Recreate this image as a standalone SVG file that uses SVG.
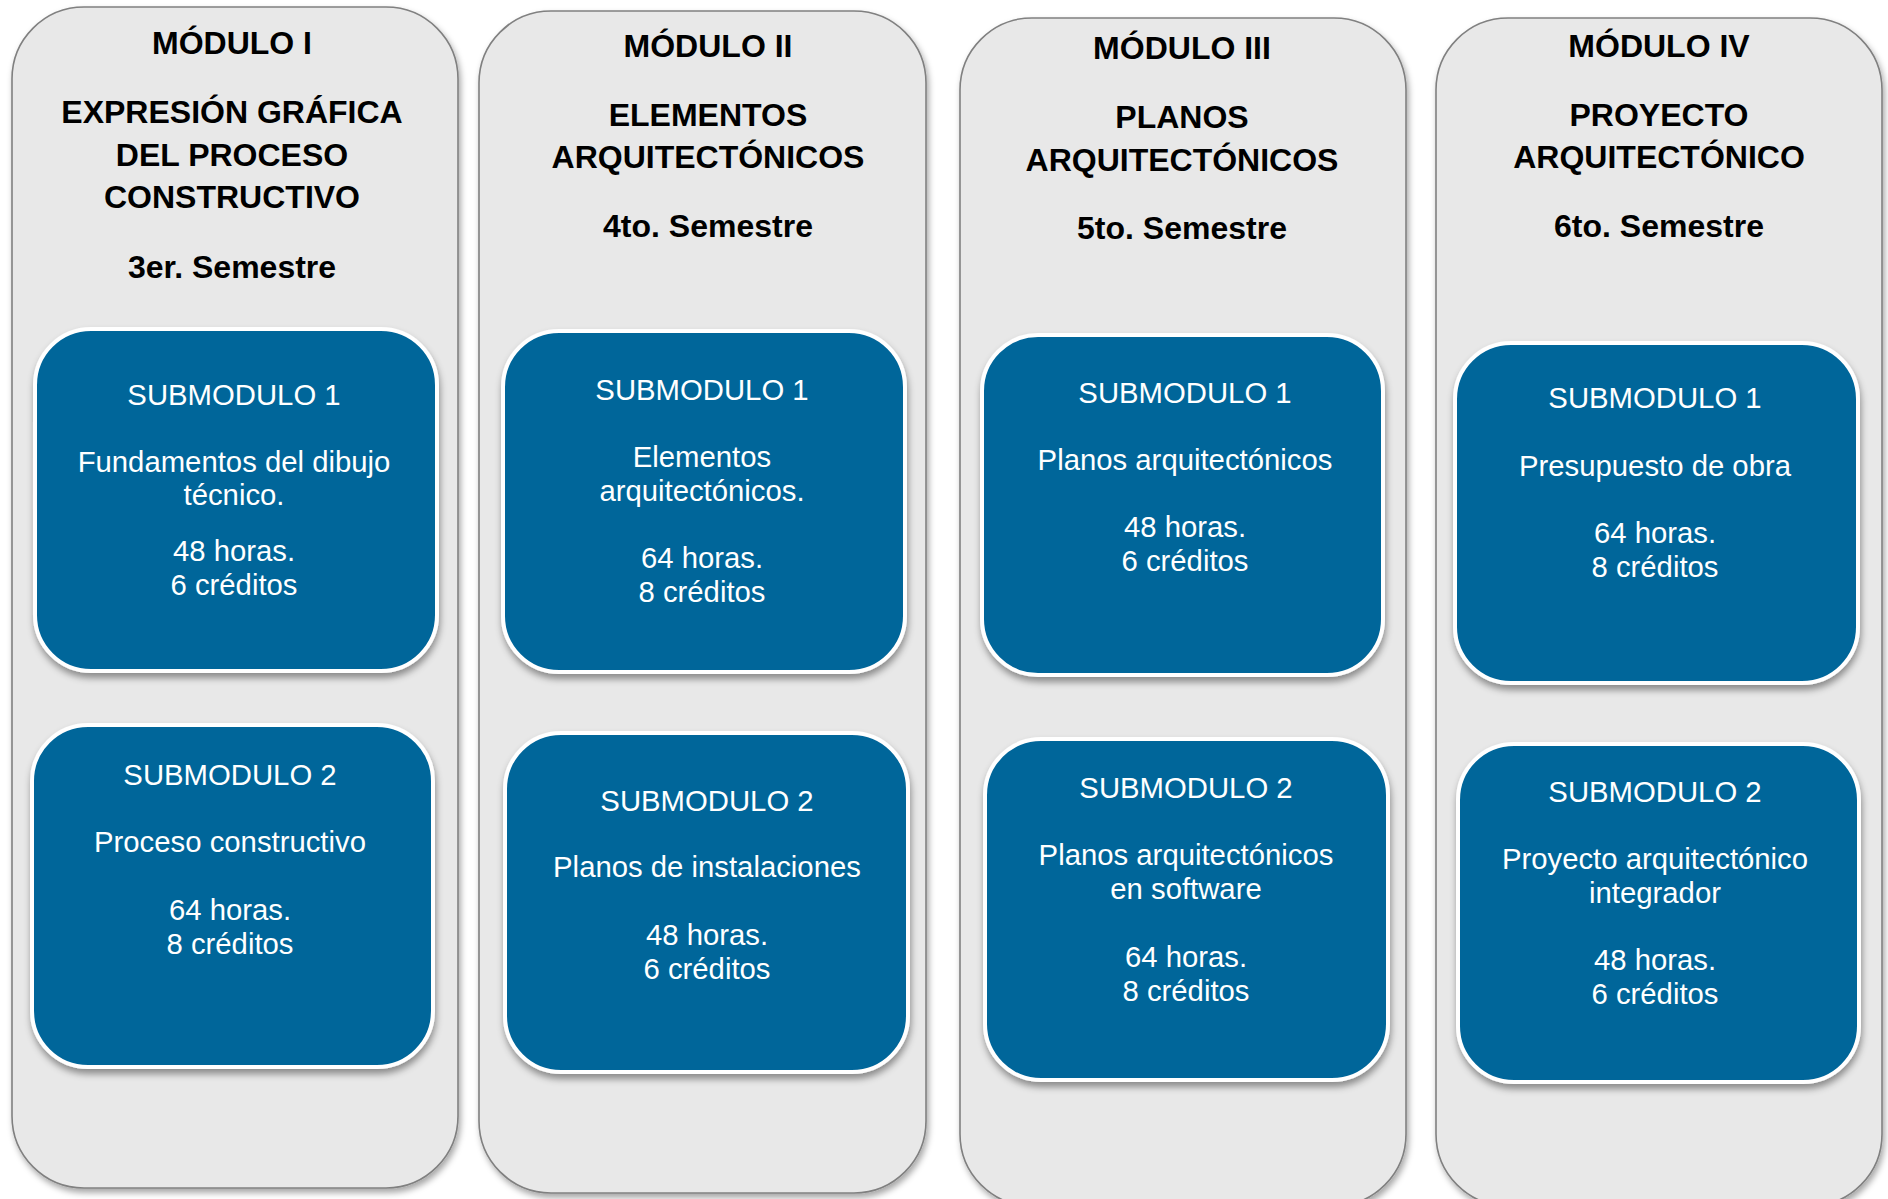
<svg xmlns="http://www.w3.org/2000/svg" width="1888" height="1199" viewBox="0 0 1888 1199">
<defs>
<filter id="shOuter" x="-10%" y="-10%" width="120%" height="120%">
<feDropShadow dx="2" dy="4" stdDeviation="3" flood-color="#000" flood-opacity="0.35"/>
</filter>
<filter id="shSub" x="-10%" y="-10%" width="120%" height="120%">
<feDropShadow dx="1" dy="5" stdDeviation="3.5" flood-color="#000" flood-opacity="0.4"/>
</filter>
</defs>
<style>
.mod{fill:#E8E8E8;stroke:#808080;stroke-width:1.6;filter:url(#shOuter)}
.sub{fill:#02669A;stroke:#FFFFFF;stroke-width:4;filter:url(#shSub)}
.ht{font-family:"Liberation Sans",Arial,sans-serif;font-weight:bold;font-size:32px;fill:#000;text-anchor:middle}
.st{font-family:"Liberation Sans",Arial,sans-serif;font-size:29.3px;fill:#FFFFFF;text-anchor:middle}
</style>
<rect width="1888" height="1199" fill="#FFFFFF"/>

<g id="modulo1">
<rect class="mod" x="12" y="7" width="446" height="1181" rx="72" ry="72"/>
<text class="ht" x="232" y="54">MÓDULO I</text>
<text class="ht" x="232" y="123">EXPRESIÓN GRÁFICA</text>
<text class="ht" x="232" y="166">DEL PROCESO</text>
<text class="ht" x="232" y="208">CONSTRUCTIVO</text>
<text class="ht" x="232" y="278">3er. Semestre</text>
</g>
<g id="m1-sub1">
<rect class="sub" x="35" y="329" width="402" height="342" rx="56" ry="56"/>
<text class="st" x="234" y="405">SUBMODULO 1</text>
<text class="st" x="234" y="472">Fundamentos del dibujo</text>
<text class="st" x="234" y="505">técnico.</text>
<text class="st" x="234" y="561">48 horas.</text>
<text class="st" x="234" y="595">6 créditos</text>
</g>
<g id="m1-sub2">
<rect class="sub" x="32" y="725" width="401" height="342" rx="56" ry="56"/>
<text class="st" x="230" y="785">SUBMODULO 2</text>
<text class="st" x="230" y="852">Proceso constructivo</text>
<text class="st" x="230" y="920">64 horas.</text>
<text class="st" x="230" y="954">8 créditos</text>
</g>

<g id="modulo2">
<rect class="mod" x="479" y="11" width="447" height="1182" rx="72" ry="72"/>
<text class="ht" x="708" y="57">MÓDULO II</text>
<text class="ht" x="708" y="126">ELEMENTOS</text>
<text class="ht" x="708" y="168">ARQUITECTÓNICOS</text>
<text class="ht" x="708" y="237">4to. Semestre</text>
</g>
<g id="m2-sub1">
<rect class="sub" x="503" y="331" width="402" height="341" rx="56" ry="56"/>
<text class="st" x="702" y="400">SUBMODULO 1</text>
<text class="st" x="702" y="467">Elementos</text>
<text class="st" x="702" y="501">arquitectónicos.</text>
<text class="st" x="702" y="568">64 horas.</text>
<text class="st" x="702" y="602">8 créditos</text>
</g>
<g id="m2-sub2">
<rect class="sub" x="505" y="733" width="403" height="339" rx="56" ry="56"/>
<text class="st" x="707" y="811">SUBMODULO 2</text>
<text class="st" x="707" y="877">Planos de instalaciones</text>
<text class="st" x="707" y="945">48 horas.</text>
<text class="st" x="707" y="979">6 créditos</text>
</g>

<g id="modulo3">
<rect class="mod" x="960" y="18" width="446" height="1188" rx="72" ry="72"/>
<text class="ht" x="1182" y="59">MÓDULO III</text>
<text class="ht" x="1182" y="128">PLANOS</text>
<text class="ht" x="1182" y="171">ARQUITECTÓNICOS</text>
<text class="ht" x="1182" y="239">5to. Semestre</text>
</g>
<g id="m3-sub1">
<rect class="sub" x="982" y="335" width="401" height="340" rx="56" ry="56"/>
<text class="st" x="1185" y="403">SUBMODULO 1</text>
<text class="st" x="1185" y="470">Planos arquitectónicos</text>
<text class="st" x="1185" y="537">48 horas.</text>
<text class="st" x="1185" y="571">6 créditos</text>
</g>
<g id="m3-sub2">
<rect class="sub" x="985" y="739" width="403" height="341" rx="56" ry="56"/>
<text class="st" x="1186" y="798">SUBMODULO 2</text>
<text class="st" x="1186" y="865">Planos arquitectónicos</text>
<text class="st" x="1186" y="899">en software</text>
<text class="st" x="1186" y="967">64 horas.</text>
<text class="st" x="1186" y="1001">8 créditos</text>
</g>

<g id="modulo4">
<rect class="mod" x="1436" y="18" width="446" height="1188" rx="72" ry="72"/>
<text class="ht" x="1659" y="57">MÓDULO IV</text>
<text class="ht" x="1659" y="126">PROYECTO</text>
<text class="ht" x="1659" y="168">ARQUITECTÓNICO</text>
<text class="ht" x="1659" y="237">6to. Semestre</text>
</g>
<g id="m4-sub1">
<rect class="sub" x="1455" y="343" width="403" height="340" rx="56" ry="56"/>
<text class="st" x="1655" y="408">SUBMODULO 1</text>
<text class="st" x="1655" y="476">Presupuesto de obra</text>
<text class="st" x="1655" y="543">64 horas.</text>
<text class="st" x="1655" y="577">8 créditos</text>
</g>
<g id="m4-sub2">
<rect class="sub" x="1458" y="744" width="401" height="338" rx="56" ry="56"/>
<text class="st" x="1655" y="802">SUBMODULO 2</text>
<text class="st" x="1655" y="869">Proyecto arquitectónico</text>
<text class="st" x="1655" y="903">integrador</text>
<text class="st" x="1655" y="970">48 horas.</text>
<text class="st" x="1655" y="1004">6 créditos</text>
</g>

<g id="connectors"></g>
</svg>
